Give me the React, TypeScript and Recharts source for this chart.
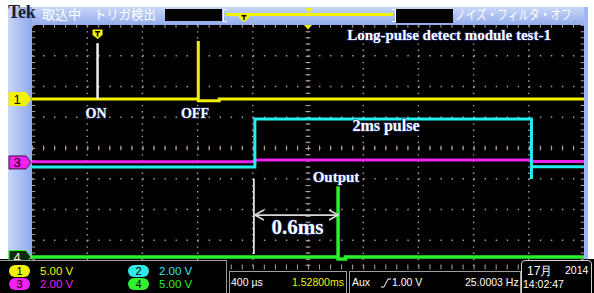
import React from "react";
import { ComposedChart, Line, Scatter, XAxis, YAxis, CartesianGrid } from "recharts";

// ---- Scope axes (time in ms: 400 us/div x 10 div; vertical in divisions) ----
const timeDomain: [number, number] = [0, 4];
const divDomain: [number, number] = [0, 8];
const majorTimeTicks = [0.4, 0.8, 1.2, 1.6, 2.0, 2.4, 2.8, 3.2, 3.6];
const majorDivTicks = [1, 2, 3, 4, 5, 6, 7];
const centerTimeTick = [2];
const centerDivTick = [4];
const edgeTimeTicks = [0.012, 3.988];
const topEdgeDivTick = [7.96];
const bottomEdgeDivTick = [0.13];

// ---- Traces (t = ms, v = divisions from bottom) ----
const ch1Trace = [
  { t: 0, v: 5.59 }, { t: 1.205, v: 5.59 }, { t: 1.205, v: 7.48 }, { t: 1.205, v: 5.54 },
  { t: 1.357, v: 5.54 }, { t: 1.357, v: 5.59 }, { t: 4, v: 5.59 },
];
const ch2Trace = [
  { t: 0, v: 3.38 }, { t: 1.615, v: 3.38 }, { t: 1.615, v: 4.94 }, { t: 3.619, v: 4.94 },
  { t: 3.619, v: 2.99 }, { t: 3.619, v: 3.39 }, { t: 4, v: 3.39 },
];
const ch3Trace = [
  { t: 0, v: 3.555 }, { t: 1.615, v: 3.555 }, { t: 1.615, v: 3.61 }, { t: 3.619, v: 3.61 },
  { t: 3.619, v: 3.56 }, { t: 4, v: 3.56 },
];
const ch4Trace = [
  { t: 0, v: 0.455 }, { t: 2.218, v: 0.455 }, { t: 2.218, v: 2.76 }, { t: 2.218, v: 0.39 },
  { t: 2.272, v: 0.39 }, { t: 2.272, v: 0.455 }, { t: 4, v: 0.455 },
];
const onPulse = [{ t: 0.475, v: 7.41 }, { t: 0.475, v: 5.59 }];
const startCursor = [{ t: 1.608, v: 2.99 }, { t: 1.608, v: 0.55 }];
const delayArrow = [{ t: 1.615, v: 1.82 }, { t: 2.218, v: 1.82 }];

// ---- Annotations ----
const annotations = [
  { t: 0.464, v: 4.99, text: "ON", size: 14 },
  { t: 1.181, v: 4.99, text: "OFF", size: 14 },
  { t: 2.565, v: 4.54, text: "2ms pulse", size: 16 },
  { t: 2.203, v: 2.89, text: "Output", size: 15 },
  { t: 1.924, v: 1.2, text: "0.6ms", size: 21 },
  { t: 3.022, v: 7.51, text: "Long-pulse detect module test-1", size: 15 },
];
const channelMarkers = [
  { t: 0, v: 5.59, label: "1", fill: "#f2f200", stroke: "#f2f200", ink: "#000" },
  { t: 0, v: 3.53, label: "3", fill: "#ee22ee", stroke: "#401040", ink: "#000" },
  { t: 0, v: 0.455, label: "4", fill: "#0c2a0c", stroke: "#30f030", ink: "#e0ffe0" },
];
const plotMarkers = [
  { t: 0.475, v: 7.707, kind: "trigger" },
  { t: 2, v: 8, kind: "center" },
];

// ---- Readouts ----
const channelScales = [
  { ch: "1", text: "5.00 V", color: "#f2f200" },
  { ch: "2", text: "2.00 V", color: "#30e8e8" },
  { ch: "3", text: "2.00 V", color: "#ee22ee" },
  { ch: "4", text: "5.00 V", color: "#30f030" },
];
const timebase = "400 µs";
const position = "1.52800ms";
const triggerSource = "Aux";
const triggerLevel = "1.00 V";
const frequency = "25.0003 Hz";
const dateLine = ["17月", "2014"];
const timeLine = "14:02:47";

const gridColor = "#b89e9e";
const serif = "'Liberation Serif', 'Times New Roman', serif";
const sans = "'Liberation Sans', Arial, sans-serif";
const cjk = "'Noto Sans CJK JP', sans-serif";

const AnnotationShape = (p: any) => {
  const { cx, cy, payload } = p;
  return (
    <text x={cx} y={cy} textAnchor="middle" fontFamily={serif} fontWeight="bold" fontSize={payload.size}
      fill="#ffffff" stroke="#24388a" strokeWidth={1.2} paintOrder="stroke">
      {payload.text}
    </text>
  );
};

const ChannelMarkerShape = (p: any) => {
  const { cx, cy, payload } = p;
  const x0 = cx - 23, x1 = cx - 6, tip = cx - 1;
  return (
    <g>
      <path d={`M${x0},${cy - 6.5} L${x1},${cy - 6.5} L${tip},${cy} L${x1},${cy + 6.5} L${x0},${cy + 6.5} Z`}
        fill={payload.fill} stroke={payload.stroke} strokeWidth={1} />
      <text x={x0 + 8} y={cy + 5} textAnchor="middle" fontFamily={sans} fontSize={13} fill={payload.ink}>
        {payload.label}
      </text>
    </g>
  );
};

const PlotMarkerShape = (p: any) => {
  const { cx, cy, payload } = p;
  if (payload.kind === "center") {
    return <path d={`M${cx - 4},${cy} L${cx + 4},${cy} L${cx},${cy + 4.5} Z`} fill="#f2f200" />;
  }
  return (
    <g>
      <path d={`M${cx - 5},${cy - 4.5} L${cx + 5},${cy - 4.5} L${cx + 5},${cy + 1} L${cx},${cy + 5} L${cx - 5},${cy + 1} Z`} fill="#f2f200" />
      <path d={`M${cx - 2.5},${cy - 2.2} L${cx + 2.5},${cy - 2.2} M${cx},${cy - 2.2} L${cx},${cy + 2.5}`} stroke="#000" strokeWidth={1.6} />
    </g>
  );
};

const ArrowDot = (p: any) => {
  const dir = p.index === 0 ? 1 : -1;
  return (
    <path key={`ah${p.index}`} d={`M${p.cx + dir * 9},${p.cy - 5} L${p.cx},${p.cy} L${p.cx + dir * 9},${p.cy + 5}`}
      fill="none" stroke="#d8d8d8" strokeWidth={1.6} />
  );
};

const Badge = ({ n, color }: { n: string; color: string }) => (
  <span style={{ display: "inline-block", width: 21, height: 12, borderRadius: 6, background: color, color: "#000",
    fontFamily: sans, fontSize: 11, lineHeight: "12px", textAlign: "center" }}>{n}</span>
);

const abs = (s: React.CSSProperties): React.CSSProperties => ({ position: "absolute", ...s });

export default function App() {
  return (
    <div style={abs({ left: 0, top: 0, width: 594, height: 293, overflow: "hidden", background: "#fff" })}>
      {/* frame */}
      <div style={abs({ left: 8, top: 7, width: 580, height: 18, background: "linear-gradient(#c8d6f8, #93adec)" })} />
      <div style={abs({ left: 8, top: 7, width: 24, height: 252, background: "linear-gradient(to right, #c8d6f8, #8ea8ee)" })} />
      <div style={abs({ left: 584, top: 7, width: 4, height: 252, background: "#9fb6f0" })} />
      <div style={abs({ left: 0, top: 259, width: 594, height: 34, background: "#000" })} />
      <div style={abs({ left: 32, top: 25, width: 552, height: 246, background: "#000" })} />

      {/* top bar */}
      <div style={abs({ left: 8, top: 2, fontFamily: serif, fontWeight: "bold", fontSize: 18, color: "#1c1c38", letterSpacing: -0.3 })}>Tek</div>
      <div style={abs({ left: 42, top: 5, fontFamily: cjk, fontSize: 13, color: "#fff", lineHeight: "18px" })}>取込中</div>
      <div style={abs({ left: 94, top: 5, fontFamily: cjk, fontSize: 13, color: "#fff", lineHeight: "18px", transform: "scaleX(0.95)", transformOrigin: "left" })}>トリガ検出</div>
      <div style={abs({ left: 165, top: 9, width: 57, height: 12, background: "#000" })} />
      <div style={abs({ left: 223, top: 9, width: 3, height: 11, borderLeft: "1px solid #fff", borderTop: "1px solid #fff", borderBottom: "1px solid #fff" })} />
      <div style={abs({ left: 226, top: 13, width: 167, height: 3, background: "#f2f200" })} />
      <div style={abs({ left: 392, top: 9, width: 3, height: 11, borderRight: "1px solid #fff", borderTop: "1px solid #fff", borderBottom: "1px solid #fff" })} />
      <svg style={abs({ left: 0, top: 0 })} width={594} height={30}>
        <path d="M239,14 L249,14 L249,18 L244,22 L239,18 Z" fill="#f2f200" />
        <path d="M241.5,15.8 L246.5,15.8 M244,15.8 L244,20" stroke="#000" strokeWidth={1.4} />
        <path d="M305,8 L313,8 L309,12.5 Z" fill="#f2f200" />
      </svg>
      <div style={abs({ left: 396, top: 9, width: 57, height: 14, background: "#000" })} />
      <div style={abs({ left: 455, top: 5, fontFamily: cjk, fontSize: 13, color: "#fff", lineHeight: "18px", whiteSpace: "nowrap", transform: "scaleX(0.82)", transformOrigin: "left" })}>ノイズ・フィルタ・オフ</div>

      <div style={abs({ left: 0, top: 0 })}>
        <ComposedChart width={594} height={293} margin={{ top: 25, right: 10, bottom: 22, left: 32 }}>
          <XAxis type="number" dataKey="t" domain={timeDomain} ticks={majorTimeTicks} hide />
          <YAxis type="number" dataKey="v" domain={divDomain} ticks={majorDivTicks} hide />
          <CartesianGrid vertical={false} horizontalValues={majorDivTicks} stroke={gridColor} strokeDasharray="1.4 9.64" strokeWidth={1.4} />
          <CartesianGrid horizontal={false} verticalValues={majorTimeTicks} stroke={gridColor} strokeDasharray="1.4 4.75" strokeWidth={1.4} />
          <CartesianGrid vertical={false} horizontalValues={centerDivTick} stroke={gridColor} strokeDasharray="1 10.04" strokeWidth={5} />
          <CartesianGrid horizontal={false} verticalValues={centerTimeTick} stroke={gridColor} strokeDasharray="1 5.15" strokeWidth={5} />
          <CartesianGrid vertical={false} horizontalValues={topEdgeDivTick} stroke={gridColor} strokeDasharray="1 10.04" strokeWidth={3} />
          <CartesianGrid vertical={false} horizontalValues={bottomEdgeDivTick} stroke={gridColor} strokeDasharray="1 10.04" strokeWidth={5} />
          <CartesianGrid horizontal={false} verticalValues={edgeTimeTicks} stroke={gridColor} strokeDasharray="1 5.15" strokeWidth={3} />

          <Line data={ch4Trace} dataKey="v" type="linear" stroke="#2cf02c" strokeWidth={3.5} dot={false} activeDot={false} isAnimationActive={false} />
          <Line data={ch3Trace} dataKey="v" type="linear" stroke="#ee22ee" strokeWidth={3} dot={false} activeDot={false} isAnimationActive={false} />
          <Line data={ch2Trace} dataKey="v" type="linear" stroke="#22f0f0" strokeWidth={3} dot={false} activeDot={false} isAnimationActive={false} />
          <Line data={ch1Trace} dataKey="v" type="linear" stroke="#f2f200" strokeWidth={3} dot={false} activeDot={false} isAnimationActive={false} />
          <Line data={onPulse} dataKey="v" type="linear" stroke="#f0f0f0" strokeWidth={2.5} dot={false} activeDot={false} isAnimationActive={false} />
          <Line data={startCursor} dataKey="v" type="linear" stroke="#e0e0e0" strokeWidth={1.8} dot={false} activeDot={false} isAnimationActive={false} />
          <Line data={delayArrow} dataKey="v" type="linear" stroke="#d8d8d8" strokeWidth={1.8} dot={ArrowDot} activeDot={false} isAnimationActive={false} />

          <Scatter data={plotMarkers} shape={PlotMarkerShape} isAnimationActive={false} />
          <Scatter data={channelMarkers} shape={ChannelMarkerShape} isAnimationActive={false} />
          <Scatter data={annotations} shape={AnnotationShape} isAnimationActive={false} />
        </ComposedChart>
      </div>

      {/* bottom readouts */}
      <div style={abs({ left: -1, top: 260, width: 227, height: 40, background: "#000", borderTop: "1px solid #9a9a9a", borderRight: "1px solid #9a9a9a" })} />
      {channelScales.map((c, i) => {
        const col = i % 2, row = Math.floor(i / 2);
        return (
          <div key={c.ch} style={abs({ left: 9 + col * 119, top: 265 + row * 13, height: 12, display: "flex", alignItems: "center", whiteSpace: "nowrap" })}>
            <Badge n={c.ch} color={c.color} />
            <span style={{ marginLeft: 10, fontFamily: sans, fontSize: 11.5, color: c.color }}>{c.text}</span>
          </div>
        );
      })}
      <div style={abs({ left: 229, top: 271, width: 116, height: 30, background: "#000", borderTop: "1px solid #a0a0a0", borderLeft: "1px solid #a0a0a0", borderRight: "1px solid #a0a0a0" })} />
      <div style={abs({ left: 349, top: 271, width: 170, height: 30, background: "#000", borderTop: "1px solid #a0a0a0", borderLeft: "1px solid #a0a0a0", borderRight: "1px solid #a0a0a0" })} />
      <div style={abs({ left: 231, top: 276, fontFamily: sans, fontSize: 10.5, color: "#fff", whiteSpace: "nowrap" })}>{timebase}</div>
      <div style={abs({ left: 292, top: 276, fontFamily: sans, fontSize: 10.5, color: "#f2f200", whiteSpace: "nowrap" })}>{position}</div>
      <div style={abs({ left: 352, top: 276, fontFamily: sans, fontSize: 10.5, color: "#fff", whiteSpace: "nowrap" })}>{triggerSource}</div>
      <svg style={abs({ left: 380, top: 277 })} width={12} height={12}>
        <path d="M1,10 L4,10 L8,2 L11,2" fill="none" stroke="#fff" strokeWidth={1} />
      </svg>
      <div style={abs({ left: 392, top: 276, fontFamily: sans, fontSize: 10.5, color: "#fff", whiteSpace: "nowrap" })}>{triggerLevel}</div>
      <div style={abs({ left: 465, top: 276, fontFamily: sans, fontSize: 10.5, color: "#fff", whiteSpace: "nowrap" })}>{frequency}</div>
      <div style={abs({ left: 521, top: 260, width: 69, height: 40, background: "#000", border: "1px solid #d0d0d0", borderRadius: 4 })} />
      <div style={abs({ left: 527, top: 263, fontFamily: sans, fontSize: 12, color: "#fff", whiteSpace: "nowrap" })}>{dateLine[0]}</div>
      <div style={abs({ left: 565, top: 264, fontFamily: sans, fontSize: 10.5, color: "#fff", whiteSpace: "nowrap" })}>{dateLine[1]}</div>
      <div style={abs({ left: 523, top: 278, fontFamily: sans, fontSize: 10.5, color: "#fff", whiteSpace: "nowrap" })}>{timeLine}</div>
    </div>
  );
}
